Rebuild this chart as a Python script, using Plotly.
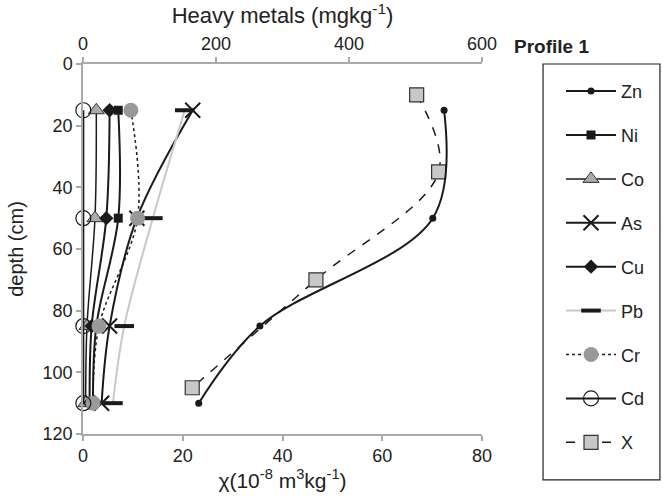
import plotly.graph_objects as go

depth_m = [15, 50, 85, 110]
depth_x = [10, 35, 70, 105]

zn = [543, 526, 266, 174]
ni = [53, 53, 20, 15]
co = [20, 18, 6, 4]
as_ = [165, 81, 40, 28]
cu = [40, 35, 13, 10]
pb = [153, 105, 62, 45]
cr = [72, 82, 24, 15]
cd = [0.5, 0.5, 0.5, 0.5]
chi = [66.9, 71.3, 46.7, 21.9]

FONT = "Liberation Sans, Arial, sans-serif"
fig = go.Figure()

def add(name, xs, ys, axis, line, marker):
    fig.add_trace(go.Scatter(
        x=xs, y=ys, name=name, mode="lines+markers", xaxis=axis, yaxis="y",
        line=dict(shape="spline", smoothing=1.0, **line), marker=marker,
        legendgroup=name, cliponaxis=False))

add("Zn", zn, depth_m, "x2", dict(color="#1a1a1a", width=2),
    dict(symbol="circle", size=7, color="#1a1a1a"))
add("Ni", ni, depth_m, "x2", dict(color="#1a1a1a", width=2),
    dict(symbol="square", size=9, color="#1a1a1a"))
add("Co", co, depth_m, "x2", dict(color="#1a1a1a", width=1.5),
    dict(symbol="triangle-up", size=14, color="#aaaaaa", line=dict(color="#333", width=1)))
add("As", as_, depth_m, "x2", dict(color="#1a1a1a", width=2),
    dict(symbol="x-thin-open", size=15, color="#1a1a1a", line=dict(color="#1a1a1a", width=2)))
add("Cu", cu, depth_m, "x2", dict(color="#1a1a1a", width=2),
    dict(symbol="diamond", size=11, color="#1a1a1a"))
add("Pb", pb, depth_m, "x2", dict(color="#c8c8c8", width=2),
    dict(symbol="line-ew-open", size=14, color="#1a1a1a", line=dict(color="#1a1a1a", width=4)))
add("Cr", cr, depth_m, "x2", dict(color="#1a1a1a", width=1.5, dash="dot"),
    dict(symbol="circle", size=15, color="#999999"))
add("Cd", cd, depth_m, "x2", dict(color="#1a1a1a", width=2),
    dict(symbol="circle-open", size=15, color="#1a1a1a", line=dict(width=1.2)))
add("X", chi, depth_x, "x", dict(color="#1a1a1a", width=1.5, dash="dash"),
    dict(symbol="square", size=14, color="#c8c8c8", line=dict(color="#333", width=1.2)))

axis_common = dict(showline=True, linecolor="#aaaaaa", linewidth=1.5, ticks="outside",
                   tickcolor="#aaaaaa", ticklen=5, tickwidth=1.5, showgrid=False,
                   zeroline=False, tickfont=dict(size=18, color="#222"))

fig.update_layout(
    width=663, height=499,
    margin=dict(l=83, r=181, t=64, b=65),
    paper_bgcolor="white", plot_bgcolor="white",
    font=dict(family=FONT, color="#222"),
    xaxis=dict(range=[0, 80], tickvals=[0, 20, 40, 60, 80],
               title=dict(text="χ(10<sup>-8</sup> m<sup>3</sup>kg<sup>-1</sup>)",
                          font=dict(size=21), standoff=4), **axis_common),
    xaxis2=dict(range=[0, 600], tickvals=[0, 200, 400, 600], overlaying="x", side="top",
                title=dict(text="Heavy metals (mgkg<sup>-1</sup>)", font=dict(size=22),
                           standoff=4), **axis_common),
    yaxis=dict(range=[120, 0], tickvals=[0, 20, 40, 60, 80, 100, 120],
               title=dict(text="depth (cm)", font=dict(size=20), standoff=14), **axis_common),
    legend=dict(x=1.198, xanchor="left", y=0.976, yanchor="top",
                borderwidth=0, bgcolor="rgba(0,0,0,0)",
                font=dict(size=18, color="#222"), traceorder="grouped",
                tracegroupgap=17.5, maxheight=440, itemwidth=50),
    showlegend=True,
)
fig.add_shape(type="rect", xref="paper", yref="paper",
              x0=1.153, x1=1.446, y0=-0.124, y1=1.0,
              line=dict(color="#222", width=1.2), fillcolor="rgba(0,0,0,0)")
fig.add_annotation(text="<b>Profile 1</b>", xref="paper", yref="paper",
                   x=1.075, y=1.046, xanchor="left", yanchor="middle",
                   showarrow=False, font=dict(size=19, color="#222"))

fig.write_html("out.html")
